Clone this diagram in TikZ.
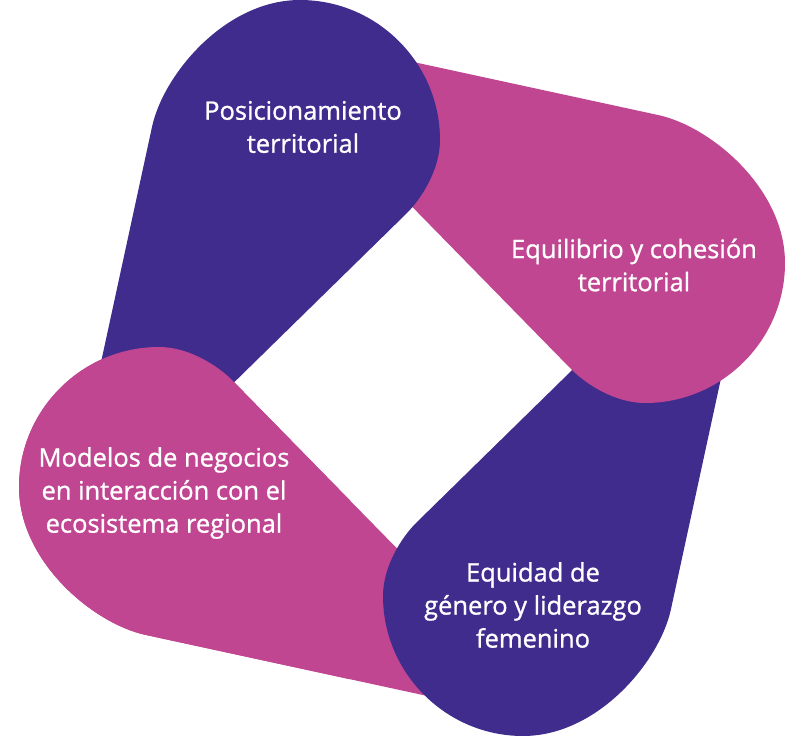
\documentclass[tikz,border=0pt]{standalone}
\usepackage{fontspec}
\setmainfont{Open Sans}
\newfontfamily\petalfont{Open Sans}[FakeBold=1]
\definecolor{petalpurple}{RGB}{63,44,141}
\definecolor{petalmagenta}{RGB}{193,70,146}
\tikzset{
  purplepetal/.style={fill=petalpurple},
  magentapetal/.style={fill=petalmagenta},
  petaltext/.style={text=white, align=center, font=\petalfont\fontsize{14.5}{18.8}\selectfont}
}

\begin{document}
\begin{tikzpicture} [x=0.2mm, y=-0.2mm]
\useasboundingbox (0,0) rectangle (800,737);
% petals, each one's cap over the tail of the one after it
\fill[magentapetal] (469,705) -- (146,635) .. controls (94,624) and (19,562) .. (19,487) .. controls (19,410) and (82,347) .. (159,347) .. controls (189,347) and (218,366) .. (232,380) -- (469,622) -- cycle;
\fill[purplepetal] (741,286) -- (671,609) .. controls (660,661) and (598,736) .. (523,736) .. controls (446,736) and (383,673) .. (383,596) .. controls (383,566) and (402,537) .. (416,523) -- (658,286) -- cycle;
\fill[magentapetal] (335,45) -- (658,115) .. controls (710,126) and (785,188) .. (785,263) .. controls (785,340) and (722,403) .. (645,403) .. controls (615,403) and (586,384) .. (572,370) -- (335,128) -- cycle;
\fill[purplepetal] (82,450) -- (152,127) .. controls (163,75) and (225,0) .. (300,0) .. controls (377,0) and (440,63) .. (440,140) .. controls (440,170) and (421,199) .. (407,213) -- (165,450) -- cycle;
% cap of the left petal again, over the tail of the top one
\begin{scope}
\clip (0,0) rectangle (350,737);
\fill[magentapetal] (469,705) -- (146,635) .. controls (94,624) and (19,562) .. (19,487) .. controls (19,410) and (82,347) .. (159,347) .. controls (189,347) and (218,366) .. (232,380) -- (469,622) -- cycle;
\end{scope}
% labels
\node[petaltext] (posicionamiento) at (303,127) {Posicionamiento\\territorial};
\node[petaltext] (equilibrio) at (634,265) {Equilibrio y cohesión\\territorial};
\node[petaltext] (equidad) at (533,605) {Equidad de\\género y liderazgo\\femenino};
\node[petaltext] (modelos) at (164,493) {Modelos de negocios\\en interacción con el\\ecosistema regional};
\end{tikzpicture}
\end{document}
